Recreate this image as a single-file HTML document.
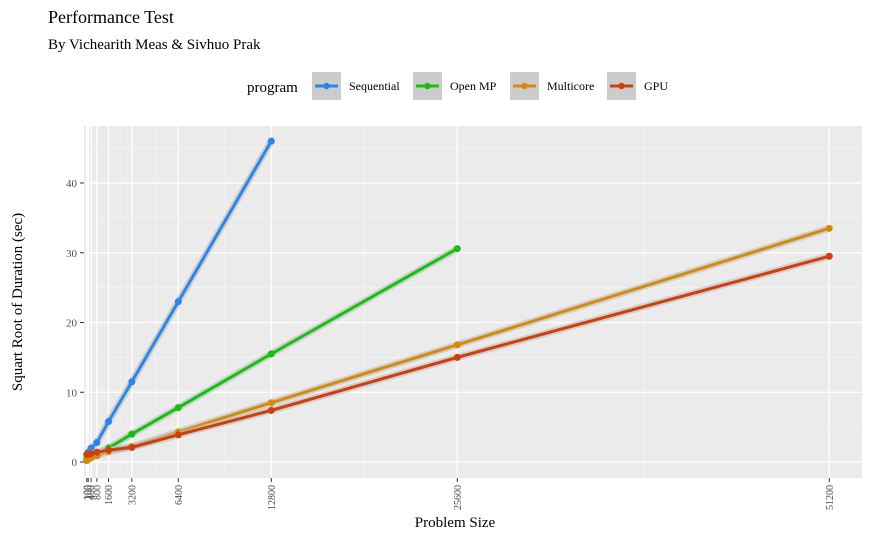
<!DOCTYPE html>
<html><head><meta charset="utf-8"><style>
body{margin:0;background:#fff;}
svg text{font-family:"Liberation Serif",serif;}
</style></head><body>
<svg id="chart" width="875" height="540" xmlns="http://www.w3.org/2000/svg">
<text x="48" y="23" font-size="18" fill="#000">Performance Test</text>
<text x="48" y="49" font-size="15" fill="#000">By Vichearith Meas &amp; Sivhuo Prak</text>
<g>
<text x="247" y="92" font-size="15">program</text>
</g>
<rect x="84" y="126" width="778" height="352" fill="#ebebeb"/>
<g id="grid"></g>
<g id="marks"></g>
<g id="axes"></g>
<text x="455" y="527" font-size="15" text-anchor="middle">Problem Size</text>
<text transform="translate(22,302) rotate(-90)" font-size="15" text-anchor="middle">Squart Root of Duration (sec)</text>
</svg>
<script>
const xTicks=[100,200,400,800,1600,3200,6400,12800,25600,51200];
const xMinor=[2400,4800,9600,19200,38400];
const yTicks=[0,10,20,30,40];
const yMinor=[5,15,25,35,45];
const seriesNames=["Sequential","Open MP","Multicore","GPU"];
const seriesColors=["#2b86e6","#12c20f","#d68a09","#cf3f0c"];
const seqX=[100,200,400,800,1600,3200,6400,12800];
const seqY=[1.0,1.4,2.0,2.8,5.8,11.5,23,46];
const ompX=[100,200,400,800,1600,3200,6400,12800,25600];
const ompY=[0.5,0.7,0.9,1.2,2.0,4.0,7.8,15.5,30.6];
const mcX=[100,200,400,800,1600,3200,6400,12800,25600,51200];
const mcY=[0.2,0.4,0.6,0.9,1.5,2.2,4.3,8.5,16.8,33.5];
const gpuX=[100,200,400,800,1600,3200,6400,12800,25600,51200];
const gpuY=[1.1,1.1,1.2,1.4,1.7,2.1,3.9,7.4,15.0,29.5];
const NS="http://www.w3.org/2000/svg";
const xs=v=>85.3+v*(93/6400);
const ys=v=>462-v*6.975;
function mk(tag,attrs,parent){const e=document.createElementNS(NS,tag);for(const k in attrs)e.setAttribute(k,attrs[k]);parent.appendChild(e);return e;}
const grid=document.getElementById('grid'),marks=document.getElementById('marks'),axes=document.getElementById('axes');
yMinor.forEach(v=>{const y=ys(v);if(y>126){const l=mk('line',{x1:84,x2:862,y1:y,y2:y,stroke:'#f5f5f5','stroke-width':0.7},grid);

}});
xMinor.forEach(v=>{const x=xs(v);const l=mk('line',{x1:x,x2:x,y1:126,y2:478,stroke:'#f5f5f5','stroke-width':0.7},grid);

});
yTicks.forEach(v=>{const y=ys(v);const l=mk('line',{x1:84,x2:862,y1:y,y2:y,stroke:'#fff','stroke-width':1.3},grid);


const t=mk('line',{x1:80,x2:84,y1:y,y2:y,stroke:'#333','stroke-width':1},axes);


const tx=mk('text',{x:77,y:y+4,'font-size':11,'text-anchor':'end',fill:'#4d4d4d'},axes);tx.textContent=v;

});
xTicks.forEach(v=>{const x=xs(v);const l=mk('line',{x1:x,x2:x,y1:126,y2:478,stroke:'#fff','stroke-width':1.3},grid);


const t=mk('line',{x1:x,x2:x,y1:478,y2:482,stroke:'#333','stroke-width':1},axes);


const tx=mk('text',{transform:`translate(${x+3.5},485) rotate(-90)`,'font-size':10,'text-anchor':'end',fill:'#4d4d4d'},axes);tx.textContent=v;

});
const data=[[seqX,seqY],[ompX,ompY],[mcX,mcY],[gpuX,gpuY]];
data.forEach(([X,Y],i)=>{
const pts=X.map((x,j)=>xs(x)+','+ys(Y[j])).join(' ');
const band=mk('polyline',{points:pts,fill:'none',stroke:'#bdbdbd','stroke-width':7,opacity:0.6},marks);


const pl=mk('polyline',{points:pts,fill:'none',stroke:seriesColors[i],'stroke-width':3},marks);


X.forEach((x,j)=>{const c=mk('circle',{cx:xs(x),cy:ys(Y[j]),r:3.5,fill:seriesColors[i]},marks);

});
});
const svg=document.getElementById('chart');
const keyX=[312,413,510,607];
seriesNames.forEach((n,i)=>{
const g=mk('g',{},svg);


mk('rect',{x:keyX[i],y:72,width:29,height:28,fill:'#cccccc'},g);
mk('line',{x1:keyX[i]+3,x2:keyX[i]+26,y1:86,y2:86,stroke:seriesColors[i],'stroke-width':3},g);
mk('circle',{cx:keyX[i]+14.5,cy:86,r:3.2,fill:seriesColors[i]},g);
const t=mk('text',{x:keyX[i]+37,y:90,'font-size':12},g);t.textContent=n;
});
</script>
</body></html>
